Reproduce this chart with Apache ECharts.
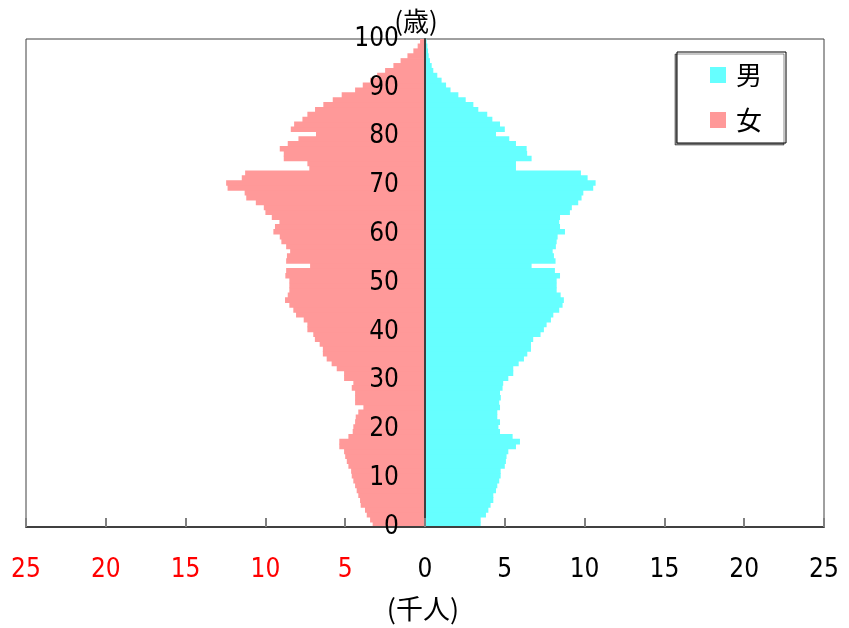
<!DOCTYPE html>
<html>
<head>
<meta charset="utf-8">
<script src="https://cdn.jsdelivr.net/npm/echarts@6/dist/echarts.min.js"></script>
<style>
html,body{margin:0;padding:0;background:#fff;}
#chart{width:849px;height:628px;}
</style>
</head>
<body>
<div id="chart"></div>
<script>
// ages 0..99 (bottom to top)
var ages = [];
for (var i = 0; i < 100; i++) ages.push(String(i));

// thousands of people, male
var male = [
3.49,3.49,3.82,3.97,4.11,4.28,4.28,4.45,4.53,4.65,
4.74,4.74,5.00,5.07,5.11,5.22,5.70,5.95,5.49,4.70,
4.60,4.70,4.53,4.53,4.70,4.65,4.75,4.70,4.86,4.90,
5.22,5.53,5.53,5.87,6.20,6.41,6.64,6.64,6.78,7.24,
7.45,7.62,7.89,8.04,8.41,8.62,8.70,8.50,8.25,8.25,
8.25,8.46,8.14,6.68,8.18,8.08,8.00,8.20,8.25,8.31,
8.77,8.46,8.41,8.46,9.08,9.20,9.60,9.81,9.92,10.54,
10.69,10.19,9.77,5.70,5.70,6.68,6.40,6.37,5.70,5.28,
4.45,5.00,4.70,4.22,3.90,3.34,3.03,2.55,2.09,1.60,
1.32,1.04,0.77,0.52,0.42,0.31,0.23,0.19,0.15,0.10
];

// thousands of people, female
var female = [
3.28,3.44,3.65,3.76,4.03,4.07,4.18,4.28,4.38,4.49,
4.59,4.63,4.80,4.90,5.00,5.07,5.37,5.37,4.80,4.53,
4.49,4.38,4.34,4.18,3.86,4.38,4.38,4.38,4.59,4.49,
5.07,5.07,5.53,5.85,6.16,6.40,6.40,6.60,6.90,7.00,
7.37,7.37,7.60,8.08,8.25,8.50,8.77,8.60,8.50,8.50,
8.50,8.75,8.70,7.20,8.70,8.65,8.45,8.70,9.00,9.10,
9.50,9.40,9.12,9.60,10.00,10.10,10.60,11.20,11.30,12.37,
12.46,11.48,11.27,7.25,7.37,8.85,8.85,9.10,8.60,7.93,
6.83,8.41,8.20,7.68,7.37,6.89,6.37,5.78,5.22,4.38,
3.90,3.44,3.00,2.50,1.98,1.53,1.10,0.73,0.46,0.31
];

var xTicks = [-25,-20,-15,-10,-5,0,5,10,15,20,25];
var seriesNames = ['男','女'];

var numFont = "'DejaVu Sans Condensed','Liberation Sans',sans-serif";
var cjkFont = "'Noto Sans CJK JP',sans-serif";

var chart = echarts.init(document.getElementById('chart'), null, {renderer:'canvas'});
chart.setOption({
  animation: false,
  backgroundColor: '#ffffff',
  grid: {
    left: 26, right: 25, top: 39, bottom: 101,
    containLabel: false,
    outerBoundsMode: 'none',
    show: true, borderColor: '#404040', borderWidth: 1, backgroundColor: 'transparent'
  },
  legend: {
    orient: 'vertical',
    left: 677, top: 52,
    padding: [10, 24, 10, 33],
    itemWidth: 16, itemHeight: 16, itemGap: 19,
    icon: 'rect',
    backgroundColor: '#ffffff',
    borderColor: '#000000', borderWidth: 1,
    shadowColor: 'rgba(0,0,0,0.45)', shadowOffsetX: -2, shadowOffsetY: 2, shadowBlur: 0,
    data: seriesNames,
    textStyle: {fontSize: 26, color: '#000', fontFamily: cjkFont, padding: [0,0,0,5]}
  },
  graphic: [
    {type:'text', x: 416, y: 21, z: 20, style:{text:'(歳)', fontSize: 26, fontFamily: cjkFont, fill:'#000', align:'center', verticalAlign:'middle'}},
    {type:'text', x: 423, y: 609, z: 20, style:{text:'(千人)', fontSize: 27, fontFamily: cjkFont, fill:'#000', align:'center', verticalAlign:'middle'}}
  ],
  xAxis: {
    type: 'value',
    min: xTicks[0], max: xTicks[xTicks.length-1], interval: 5,
    z: 10,
    axisLine: {show: true, onZero: false, lineStyle: {color: '#404040', width: 2}},
    axisTick: {show: true, inside: true, length: 9, lineStyle: {color: '#808080', width: 2}},
    splitLine: {show: false},
    axisLabel: {
      margin: 30,
      fontSize: 26,
      fontFamily: numFont,
      formatter: function(v){ return String(Math.abs(v)); },
      color: function(v){ return Number(v) < 0 ? '#ff0000' : '#000000'; }
    }
  },
  yAxis: [
    {
      type: 'value', min: 0, max: 100, interval: 10,
      position: 'left',
      offset: -399,
      z: 10,
      axisLine: {show: true, onZero: false, lineStyle: {color: '#404040', width: 2}},
      axisTick: {show: false},
      splitLine: {show: false},
      axisLabel: {margin: 26, fontSize: 26, fontFamily: numFont, color: '#000'}
    },
    {
      type: 'category', data: ages, position: 'left', show: false,
      axisLine: {onZero: false}
    }
  ],
  series: [
    {
      name: seriesNames[0], type: 'bar', yAxisIndex: 1,
      barWidth: 5.6, barGap: '-100%',
      itemStyle: {color: '#66ffff'},
      data: male
    },
    {
      name: seriesNames[1], type: 'bar', yAxisIndex: 1,
      barWidth: 5.6, barGap: '-100%',
      itemStyle: {color: '#ff9999'},
      data: female.map(function(v){ return -v; })
    }
  ]
});
</script>
</body>
</html>
